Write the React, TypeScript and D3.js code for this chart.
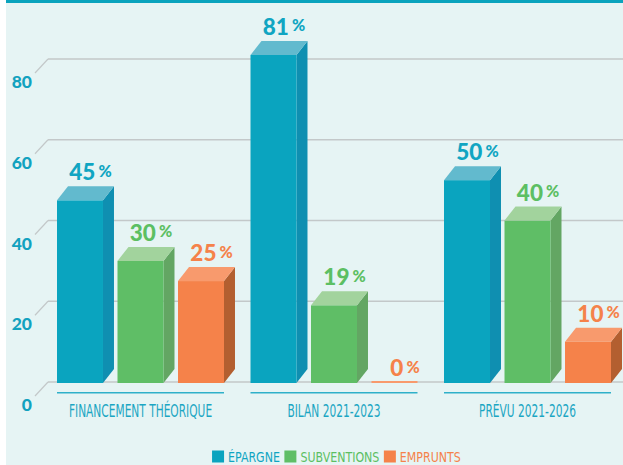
import React, { useEffect, useRef } from "react";
import * as d3 from "d3";

const categories = ["FINANCEMENT THÉORIQUE", "BILAN 2021-2023", "PRÉVU 2021-2026"];
const seriesNames = ["ÉPARGNE", "SUBVENTIONS", "EMPRUNTS"];
const epargne = [45, 81, 50];
const subventions = [30, 19, 40];
const emprunts = [25, 0, 10];
const yTicks = [0, 20, 40, 60, 80];

const W = 623;
const H = 465;

const palette = [
  { front: "#0aa4bf", side: "#0f8fb1", top: "#62bace", label: "#10a5c2" },
  { front: "#5fbe66", side: "#63a663", top: "#a2d39d", label: "#5cbf63" },
  { front: "#f5824a", side: "#b35f30", top: "#f89a6d", label: "#f5824a" },
];

const condFont = "'DejaVu Sans Condensed', 'Liberation Sans Narrow', sans-serif";

export default function App() {
  const ref = useRef<SVGSVGElement>(null);

  useEffect(() => {
    document.body.style.margin = "0";
    const svg = d3.select(ref.current);
    svg.selectAll("*").remove();

    const series = [epargne, subventions, emprunts];
    const DX = 11;
    const DY = 14;

    const y = d3.scaleLinear().domain([0, 80]).range([382, 59]);
    const x0 = d3.scaleBand<string>().domain(categories).range([57, 611]).paddingInner(0.137).paddingOuter(0);
    const x1 = d3.scaleBand<string>().domain(seriesNames).range([0, x0.bandwidth()]).paddingInner(0.24).paddingOuter(0);

    svg.append("rect").attr("x", 6).attr("y", 0).attr("width", W - 6).attr("height", H).attr("fill", "#e6f4f4");
    svg.append("rect").attr("x", 6).attr("y", 0).attr("width", W - 6).attr("height", 3).attr("fill", "#0aa3bd");

    // grid
    const grid = svg.append("g");
    yTicks.forEach((t) => {
      grid.append("line").attr("x1", 48).attr("x2", W).attr("y1", y(t)).attr("y2", y(t))
        .attr("stroke", "#c3c8c9").attr("stroke-width", 1.5);
      grid.append("line").attr("x1", 35).attr("y1", y(t) + DY).attr("x2", 48).attr("y2", y(t))
        .attr("stroke", "#c3c8c9").attr("stroke-width", 1.2);
      grid.append("text").attr("x", 32).attr("y", y(t) + 29).attr("text-anchor", "end")
        .attr("font-family", "Lato, 'Open Sans', sans-serif").attr("font-weight", 900)
        .attr("font-size", 17.5).attr("fill", "#12a2bf").text(String(t));
    });

    // bars
    const bars = svg.append("g");
    categories.forEach((cat, i) => {
      seriesNames.forEach((s, j) => {
        const v = series[j][i];
        const c = palette[j];
        const xl = (x0(cat) as number) + (x1(s) as number);
        const w = x1.bandwidth();
        const xr = xl + w;
        const yv = y(v);
        const yb = y(0) + 1;
        if (v > 0) {
          bars.append("polygon")
            .attr("points", [[xr, yv], [xr + DX, yv - DY], [xr + DX, yb - DY], [xr, yb]].map((p) => p.join(",")).join(" "))
            .attr("fill", c.side);
          bars.append("rect").attr("x", xl).attr("y", yv).attr("width", w).attr("height", yb - yv).attr("fill", c.front);
          bars.append("polygon")
            .attr("points", [[xl, yv], [xl + DX, yv - DY], [xr + DX, yv - DY], [xr, yv]].map((p) => p.join(",")).join(" "))
            .attr("fill", c.top);
        } else {
          bars.append("rect").attr("x", xl).attr("y", yb - 2).attr("width", w).attr("height", 2).attr("fill", c.top);
        }
        const t = bars.append("text")
          .attr("x", xl + w / 2 + 10.5)
          .attr("y", yv - (v > 0 ? 20 : 6))
          .attr("text-anchor", "middle")
          .attr("font-family", "Lato, 'Open Sans', sans-serif")
          .attr("font-weight", 900)
          .attr("fill", c.label);
        t.append("tspan").attr("font-size", 22.5).text(String(v));
        t.append("tspan").attr("font-size", 16).attr("dx", 3).attr("dy", -3.5).text("%");
      });
    });

    // x labels
    const xa = svg.append("g");
    categories.forEach((cat) => {
      const s = x0(cat) as number;
      xa.append("line").attr("x1", s).attr("x2", s + x0.bandwidth()).attr("y1", 392.7).attr("y2", 392.7)
        .attr("stroke", "#2fb0c9").attr("stroke-width", 1.5);
      xa.append("g").attr("transform", `translate(${s + x0.bandwidth() / 2},416.7) scale(0.68,1)`)
        .append("text").attr("text-anchor", "middle")
        .attr("font-family", condFont)
        .attr("font-size", 17.4).attr("fill", "#1ba6c3").text(cat);
    });

    // legend
    const LSX = 0.93;
    const lg = svg.append("g");
    const items: { sq: any; g: any; w: number }[] = [];
    seriesNames.forEach((s, j) => {
      const sq = lg.append("rect").attr("y", 450.5).attr("width", 12).attr("height", 12).attr("fill", palette[j].front);
      const g = lg.append("g");
      const tx = g.append("text").attr("y", 0)
        .attr("font-family", condFont)
        .attr("font-size", 13.2).attr("fill", palette[j].label).text(s);
      const w = (tx.node() as SVGTextElement).getComputedTextLength() * LSX;
      items.push({ sq, g, w });
    });
    const total = items.reduce((a, it) => a + 12 + 4 + it.w, 0) + 4.5 * (items.length - 1);
    let cx = 336.4 - total / 2;
    items.forEach((it) => {
      it.sq.attr("x", cx);
      it.g.attr("transform", `translate(${cx + 16},461.5) scale(${LSX},1)`);
      cx += 16 + it.w + 4.5;
    });
  }, []);

  return (
    <svg ref={ref} width={W} height={H} style={{ position: "absolute", left: 0, top: 0, display: "block" }} />
  );
}
